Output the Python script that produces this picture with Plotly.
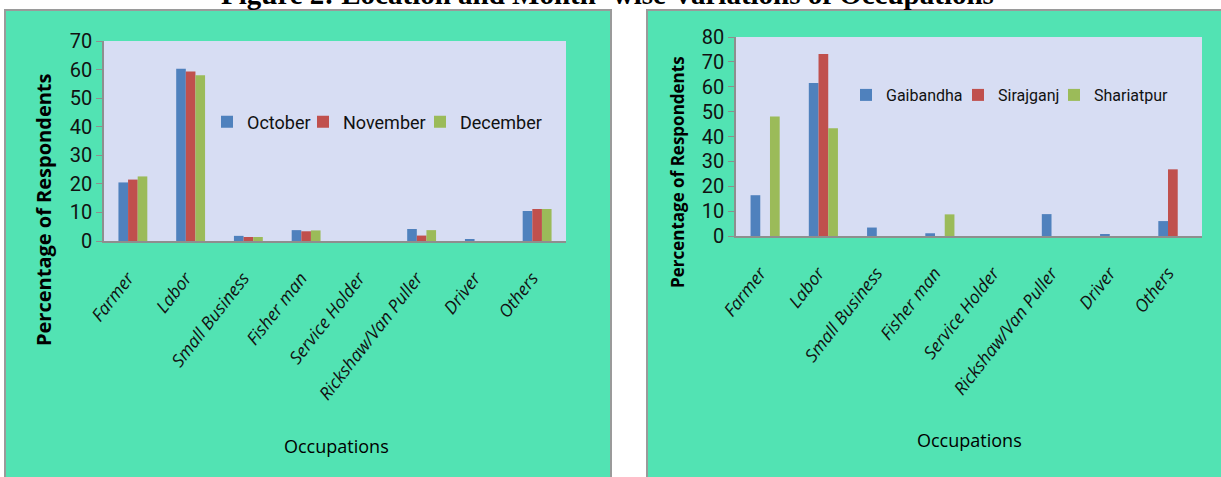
import plotly.graph_objects as go

# Occupation categories shared by both panels
categories = ["Farmer", "Labor", "Small Business", "Fisher man", "Service Holder",
              "Rickshaw/Van Puller", "Driver", "Others"]

# Month-wise percentages (left panel)
october = [20.5, 60.3, 1.8, 3.8, 0, 4.2, 0.7, 10.5]
november = [21.5, 59.3, 1.4, 3.4, 0, 1.9, 0, 11.2]
december = [22.6, 58.0, 1.4, 3.7, 0, 3.8, 0, 11.2]

# Location-wise percentages (right panel)
gaibandha = [16.4, 61.5, 3.4, 1.1, 0, 8.8, 0.7, 6.0]
sirajganj = [0, 73.2, 0, 0, 0, 0, 0, 26.8]
shariatpur = [48.0, 43.3, 0, 8.7, 0, 0, 0, 0]

left_ticks = [0, 10, 20, 30, 40, 50, 60, 70]
right_ticks = [0, 10, 20, 30, 40, 50, 60, 70, 80]

W, H = 1221, 477
BLUE, RED, GREEN = "#4F81BD", "#C0504D", "#9BBB59"
PANEL = "#52E3B3"
PLOTBG = "#D7DDF3"
AXIS = "#8E8E8E"
NARROW = "Roboto, sans-serif"
LABEL = "Open Sans, sans-serif"


def px(x):
    return x / W


def py(y):
    return 1 - y / H


fig = go.Figure()

# one legend box per series so each key sits at its own spot in the row
month_series = [("October", october, BLUE, 207), ("November", november, RED, 303),
                ("December", december, GREEN, 420)]
place_series = [("Gaibandha", gaibandha, BLUE, 846), ("Sirajganj", sirajganj, RED, 958),
                ("Shariatpur", shariatpur, GREEN, 1054)]

legends = {}
n = 0
for (name, vals, col, lx) in month_series:
    n += 1
    key = "legend" if n == 1 else f"legend{n}"
    fig.add_trace(go.Bar(x=categories, y=vals, name=name, marker_color=col,
                         marker_line_width=0, xaxis="x", yaxis="y", legend=key))
    legends[key] = dict(orientation="h", x=px(lx), y=py(122), xanchor="left",
                        yanchor="middle", bgcolor="rgba(0,0,0,0)", itemwidth=30,
                        font=dict(family=NARROW, size=18, color="#111"))

for (name, vals, col, lx) in place_series:
    n += 1
    key = f"legend{n}"
    fig.add_trace(go.Bar(x=categories, y=vals, name=name, marker_color=col,
                         marker_line_width=0, xaxis="x2", yaxis="y2", legend=key))
    legends[key] = dict(orientation="h", x=px(lx), y=py(95), xanchor="left",
                        yanchor="middle", bgcolor="rgba(0,0,0,0)", itemwidth=30,
                        font=dict(family=NARROW, size=16, color="#111"))

xcommon = dict(showline=True, linecolor=AXIS, linewidth=2, ticks="", showgrid=False,
               zeroline=False, tickangle=-52, ticklabelstandoff=18, ticklabelshift=-5,
               tickfont=dict(family=LABEL, size=17.5, color="#111", style="italic"))

ycommon = dict(showline=True, linecolor=AXIS, linewidth=1.5, ticks="outside", ticklen=6,
               tickcolor=AXIS, showgrid=False, zeroline=False,
               tickfont=dict(family=NARROW, size=20, color="#111"))

fig.update_layout(
    width=W, height=H, autosize=False,
    margin=dict(l=0, r=0, t=0, b=0, autoexpand=False),
    paper_bgcolor="white", plot_bgcolor="rgba(0,0,0,0)",
    barmode="group", bargap=0.5, bargroupgap=0,
    showlegend=True,
    xaxis=dict(domain=[px(104), px(566)], anchor="y", **xcommon),
    yaxis=dict(domain=[py(241), py(41)], anchor="x", range=[0, 70],
               tickvals=left_ticks, **ycommon),
    xaxis2=dict(domain=[px(736), px(1202)], anchor="y2", **xcommon),
    yaxis2=dict(domain=[py(236), py(37)], anchor="x2", range=[0, 80],
                tickvals=right_ticks, **ycommon),
    **legends,
)

# Green chart panels with grey frame, then the plot-area fills on top
shapes = [
    dict(type="rect", xref="paper", yref="paper", x0=px(5), x1=px(611), y0=-0.01, y1=py(10),
         fillcolor=PANEL, line=dict(color="#9A9A9A", width=2), layer="below"),
    dict(type="rect", xref="paper", yref="paper", x0=px(647), x1=1.01, y0=-0.01, y1=py(10),
         fillcolor=PANEL, line=dict(color="#9A9A9A", width=2), layer="below"),
    dict(type="rect", xref="x domain", yref="y domain", x0=0, x1=1, y0=0, y1=1,
         fillcolor=PLOTBG, line=dict(width=0), layer="below"),
    dict(type="rect", xref="x2 domain", yref="y2 domain", x0=0, x1=1, y0=0, y1=1,
         fillcolor=PLOTBG, line=dict(width=0), layer="below"),
]
fig.update_layout(shapes=shapes)

annotations = [
    dict(text="<b>Figure 2: Location and Month- wise Variations of Occupations</b>",
         x=px(607), y=1 + 6 / H, xref="paper", yref="paper", xanchor="center",
         yanchor="middle", showarrow=False,
         font=dict(family="Liberation Serif, Times New Roman, serif", size=29, color="black")),
    dict(text="<b>Percentage of Respondents</b>", x=px(43), y=py(210), xref="paper",
         yref="paper", textangle=-90, showarrow=False, xanchor="center", yanchor="middle",
         font=dict(family=LABEL, size=20, color="black")),
    dict(text="<b>Percentage of Respondents</b>", x=px(677), y=py(172), xref="paper",
         yref="paper", textangle=-90, showarrow=False, xanchor="center", yanchor="middle",
         font=dict(family=LABEL, size=17, color="black")),
    dict(text="Occupations", x=px(336), y=py(446), xref="paper", yref="paper",
         showarrow=False, xanchor="center", yanchor="middle",
         font=dict(family=LABEL, size=18, color="black")),
    dict(text="Occupations", x=px(969), y=py(440), xref="paper", yref="paper",
         showarrow=False, xanchor="center", yanchor="middle",
         font=dict(family=LABEL, size=18, color="black")),
]
fig.update_layout(annotations=annotations)

fig.write_html("out.html")
